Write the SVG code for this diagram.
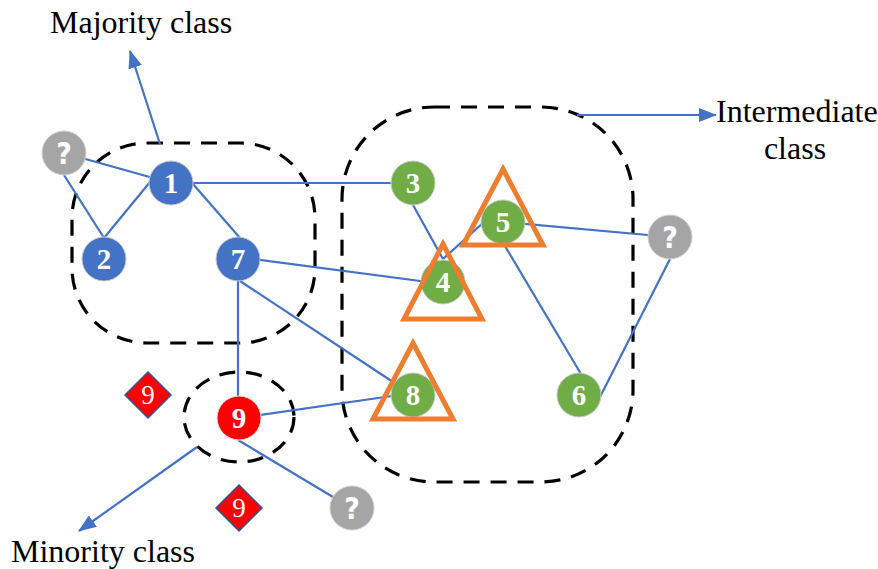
<svg xmlns="http://www.w3.org/2000/svg" width="878" height="569" viewBox="0 0 878 569">
  <style>
    .edge { stroke: #4472C4; stroke-width: 2.2; fill: none; }
    .group { stroke: #000; stroke-width: 3.2; fill: none; stroke-dasharray: 16 11; }
    .blue { fill: #4472C4; stroke: #C9C9C9; stroke-width: 1; }
    .green { fill: #70AD47; stroke: #C9C9C9; stroke-width: 1; }
    .gray { fill: #A5A5A5; stroke: #D0D0D0; stroke-width: 1; }
    .red { fill: #FF0000; stroke: #E0E0E0; stroke-width: 1; }
    .tri { fill: none; stroke: #ED7D31; stroke-width: 5; stroke-linejoin: miter; }
    .diamond { fill: #FF0000; stroke: #2F5597; stroke-width: 1.5; }
    .num { font-family: "Liberation Serif", "Times New Roman", serif; font-weight: bold; font-size: 29px; fill: #fff; text-anchor: middle; }
    .dnum { font-family: "Liberation Serif", "Times New Roman", serif; font-size: 27px; fill: #fff; text-anchor: middle; }
    .q { font-family: "Liberation Sans Narrow", "DejaVu Sans Condensed", "Liberation Sans", sans-serif; font-weight: bold; font-size: 30px; fill: #fff; text-anchor: middle; }
    .label { font-family: "Liberation Serif", "Times New Roman", serif; font-size: 32px; fill: #000; }
  </style>
  <defs>
    <marker id="arrow" viewBox="0 0 18 14" refX="17" refY="7" markerWidth="18" markerHeight="14" orient="auto" markerUnits="userSpaceOnUse">
      <path d="M0,0 L18,7 L0,14 Z" fill="#4472C4"/>
    </marker>
  </defs>
  <rect width="878" height="569" fill="#fff"/>

  <!-- class regions -->
  <g id="regions">
    <rect class="group" x="72" y="143" width="243" height="200" rx="75" ry="75"/>
    <rect class="group" x="342" y="107" width="291" height="375" rx="92" ry="92"/>
    <ellipse class="group" cx="239" cy="417" rx="55" ry="45"/>
  </g>

  <!-- connectors -->
  <g id="connectors">
    <line class="edge" x1="64" y1="153" x2="171" y2="183"/>
    <line class="edge" x1="64" y1="175" x2="104" y2="238"/>
    <line class="edge" x1="150" y1="182" x2="104" y2="238"/>
    <line class="edge" x1="193" y1="184" x2="240" y2="238"/>
    <line class="edge" x1="171" y1="183" x2="413" y2="183"/>
    <line class="edge" x1="238" y1="257" x2="443" y2="284"/>
    <line class="edge" x1="238" y1="259" x2="238" y2="418"/>
    <line class="edge" x1="240" y1="281" x2="393" y2="382"/>
    <line class="edge" x1="239" y1="418" x2="392" y2="396"/>
    <line class="edge" x1="238" y1="440" x2="333" y2="497"/>
    <line class="edge" x1="413" y1="205" x2="443" y2="259"/>
    <line class="edge" x1="443" y1="259" x2="484" y2="222"/>
    <line class="edge" x1="503" y1="222" x2="670" y2="237"/>
    <line class="edge" x1="505" y1="246" x2="581" y2="374"/>
    <line class="edge" x1="600" y1="397" x2="670" y2="259"/>
    <!-- class pointers -->
    <line class="edge" x1="160" y1="144" x2="130" y2="51" marker-end="url(#arrow)"/>
    <line class="edge" x1="577" y1="115" x2="716" y2="115" marker-end="url(#arrow)"/>
    <line class="edge" x1="197" y1="447" x2="79" y2="531" marker-end="url(#arrow)"/>
  </g>

  <!-- majority nodes -->
  <g id="node-1"><circle class="blue" cx="171" cy="183" r="22"/><text class="num" x="171" y="193">1</text></g>
  <g id="node-2"><circle class="blue" cx="104" cy="259" r="22"/><text class="num" x="104" y="269">2</text></g>
  <g id="node-7"><circle class="blue" cx="238" cy="259" r="22"/><text class="num" x="238" y="269">7</text></g>

  <!-- intermediate nodes -->
  <g id="node-3"><circle class="green" cx="413" cy="183" r="22"/><text class="num" x="413" y="193">3</text></g>
  <g id="node-5"><circle class="green" cx="503" cy="222" r="22"/><polygon class="tri" points="503,169 543,245 463,245"/><text class="num" x="503" y="232">5</text></g>
  <g id="node-4"><circle class="green" cx="443" cy="282" r="22"/><polygon class="tri" points="443,244 482,319 404,319"/><text class="num" x="443" y="292">4</text></g>
  <g id="node-8"><circle class="green" cx="413" cy="395" r="22"/><polygon class="tri" points="413,343 453,419 373,419"/><text class="num" x="413" y="405">8</text></g>
  <g id="node-6"><circle class="green" cx="579" cy="395" r="22"/><text class="num" x="579" y="405">6</text></g>

  <!-- minority nodes -->
  <g id="node-9"><circle class="red" cx="239" cy="418" r="22"/><text class="num" x="239" y="428">9</text></g>
  <g id="synthetic-9a"><polygon class="diamond" points="148,372 171,395 148,418 125,395"/><text class="dnum" x="148" y="404">9</text></g>
  <g id="synthetic-9b"><polygon class="diamond" points="239,485 262,508 239,531 216,508"/><text class="dnum" x="239" y="517">9</text></g>

  <!-- unlabeled nodes -->
  <g id="unknown-1"><circle class="gray" cx="64" cy="153" r="22"/><text class="q" x="64" y="164">?</text></g>
  <g id="unknown-2"><circle class="gray" cx="670" cy="237" r="22"/><text class="q" x="670" y="248">?</text></g>
  <g id="unknown-3"><circle class="gray" cx="352" cy="508" r="22"/><text class="q" x="352" y="519">?</text></g>

  <!-- class labels -->
  <g id="labels">
    <text class="label" x="50" y="33">Majority class</text>
    <text class="label" x="716" y="122">Intermediate</text>
    <text class="label" x="795" y="159" text-anchor="middle">class</text>
    <text class="label" x="11" y="562">Minority class</text>
  </g>
</svg>
